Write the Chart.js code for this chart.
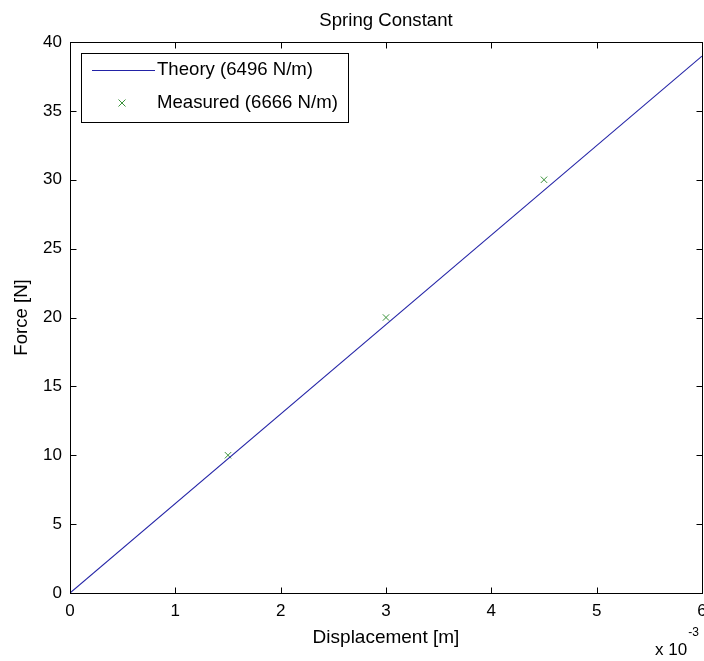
<!DOCTYPE html>
<html>
<head>
<meta charset="utf-8">
<script src="https://cdn.jsdelivr.net/npm/chart.js@4/dist/chart.umd.min.js"></script>
<style>
  html, body { margin: 0; padding: 0; background: #ffffff; }
  canvas { display: block; }
</style>
</head>
<body>
<canvas id="chart" width="704" height="661"></canvas>
<script>
// Texts
const chartTitle = 'Spring Constant';
const xAxisTitle = 'Displacement [m]';
const yAxisTitle = 'Force [N]';
const theoryLabel = 'Theory (6496 N/m)';
const measuredLabel = 'Measured (6666 N/m)';
const xExponentBase = 'x 10';
const xExponent = '-3';

// Theory line endpoints, F = k x with k = 6496 N/m
const theoryDisplacement = [0, 0.006];
const theoryForce = [0, 38.976];

// Measured points
const measuredDisplacement = [0.0015, 0.003, 0.0045];
const measuredForce = [10, 20, 30];

// Axis ticks
const xTickValues = [0, 0.001, 0.002, 0.003, 0.004, 0.005, 0.006];
const yTickValues = [0, 5, 10, 15, 20, 25, 30, 35, 40];

const FONT = '"Liberation Sans", Arial, Helvetica, sans-serif';
const TEXT_SIZE = 18.6;
const THEORY_COLOR = '#2222a6';
const MEASURED_COLOR = '#3a923a';

const toPoints = (xs, ys) => xs.map((v, i) => ({ x: v, y: ys[i] }));

// Box, inward ticks, centred title and the x10^-3 multiplier (MATLAB-style axes)
const boxAxes = {
  id: 'boxAxes',
  afterDraw(chart) {
    const { ctx, chartArea: a, scales: { x, y } } = chart;
    const L = Math.round(a.left) + 0.5;
    const R = Math.round(a.right) + 0.5;
    const T = Math.round(a.top) + 0.5;
    const B = Math.round(a.bottom) + 0.5;
    const tl = 6;
    ctx.save();
    ctx.strokeStyle = '#000000';
    ctx.lineWidth = 1;
    ctx.strokeRect(L, T, R - L, B - T);
    ctx.beginPath();
    xTickValues.forEach(v => {
      const px = Math.round(x.getPixelForValue(v)) + 0.5;
      ctx.moveTo(px, B); ctx.lineTo(px, B - tl);
      ctx.moveTo(px, T); ctx.lineTo(px, T + tl);
    });
    yTickValues.forEach(v => {
      const py = Math.round(y.getPixelForValue(v)) + 0.5;
      ctx.moveTo(L, py); ctx.lineTo(L + tl, py);
      ctx.moveTo(R, py); ctx.lineTo(R - tl, py);
    });
    ctx.stroke();

    ctx.fillStyle = '#000000';
    ctx.textBaseline = 'middle';

    // title centred over the plot box
    ctx.textAlign = 'center';
    ctx.font = TEXT_SIZE + 'px ' + FONT;
    ctx.fillText(chartTitle, (a.left + a.right) / 2, 21);

    // multiplier under the right end of the x axis
    ctx.textAlign = 'left';
    ctx.font = '17px ' + FONT;
    const bx = 655, by = 650;
    ctx.fillText(xExponentBase, bx, by);
    const w = ctx.measureText(xExponentBase).width;
    ctx.font = '12px ' + FONT;
    ctx.fillText(xExponent, bx + w + 1, by - 17);
    ctx.restore();
  }
};

// Boxed legend in the upper-left corner of the plot area
const boxLegend = {
  id: 'boxLegend',
  afterDraw(chart) {
    const { ctx, chartArea: a } = chart;
    const ds = chart.data.datasets;
    ctx.save();
    ctx.font = TEXT_SIZE + 'px ' + FONT;
    const left = Math.round(a.left) + 11;
    const top = Math.round(a.top) + 11;
    const textX = left + 76;
    const maxW = Math.max(...ds.map(d => ctx.measureText(d.label).width));
    const width = Math.round(textX + maxW + 10 - left);
    const height = 69;
    ctx.fillStyle = '#ffffff';
    ctx.fillRect(left, top, width, height);
    ctx.strokeStyle = '#000000';
    ctx.lineWidth = 1;
    ctx.strokeRect(left + 0.5, top + 0.5, width, height);

    const row1 = top + 17, row2 = top + 50;
    // theory line sample
    ctx.strokeStyle = ds[0].borderColor;
    ctx.lineWidth = 1;
    ctx.beginPath();
    ctx.moveTo(left + 11, row1 + 0.5);
    ctx.lineTo(left + 74, row1 + 0.5);
    ctx.stroke();
    // measured marker sample
    const mx = left + 41, r = 3.5;
    ctx.strokeStyle = ds[1].borderColor;
    ctx.beginPath();
    ctx.moveTo(mx - r, row2 - r); ctx.lineTo(mx + r, row2 + r);
    ctx.moveTo(mx - r, row2 + r); ctx.lineTo(mx + r, row2 - r);
    ctx.stroke();

    ctx.fillStyle = '#000000';
    ctx.textAlign = 'left';
    ctx.textBaseline = 'middle';
    ctx.fillText(ds[0].label, textX, row1);
    ctx.fillText(ds[1].label, textX, row2);
    ctx.restore();
  }
};

new Chart(document.getElementById('chart'), {
  type: 'scatter',
  data: {
    datasets: [
      {
        label: theoryLabel,
        data: toPoints(theoryDisplacement, theoryForce),
        showLine: true,
        borderColor: THEORY_COLOR,
        backgroundColor: THEORY_COLOR,
        borderWidth: 1.1,
        pointRadius: 0,
        fill: false
      },
      {
        label: measuredLabel,
        data: toPoints(measuredDisplacement, measuredForce),
        showLine: false,
        pointStyle: 'crossRot',
        pointRadius: 4.5,
        borderColor: MEASURED_COLOR,
        backgroundColor: MEASURED_COLOR,
        pointBorderWidth: 1
      }
    ]
  },
  options: {
    responsive: false,
    animation: false,
    events: [],
    layout: { autoPadding: false, padding: { left: 0, right: 2, top: 42, bottom: 0 } },
    plugins: {
      legend: { display: false },
      tooltip: { enabled: false },
      title: { display: false }
    },
    scales: {
      x: {
        type: 'linear',
        min: 0,
        max: 0.006,
        afterBuildTicks: s => { s.ticks = xTickValues.map(v => ({ value: v })); },
        afterFit: s => { s.height = 68; s.paddingLeft = 0; s.paddingRight = 0; },
        grid: { display: false, drawTicks: false },
        border: { display: false },
        ticks: {
          color: '#000000',
          padding: 8,
          maxRotation: 0,
          autoSkip: false,
          font: { family: FONT, size: 17 },
          callback: v => String(Math.round(v * 1000))
        },
        title: {
          display: true,
          text: xAxisTitle,
          color: '#000000',
          font: { family: FONT, size: 19, lineHeight: 1.2 },
          padding: { top: 0, bottom: 11.6 }
        }
      },
      y: {
        type: 'linear',
        min: 0,
        max: 40,
        afterBuildTicks: s => { s.ticks = yTickValues.map(v => ({ value: v })); },
        afterFit: s => { s.width = 70; s.paddingTop = 0; s.paddingBottom = 0; },
        grid: { display: false, drawTicks: false },
        border: { display: false },
        ticks: {
          color: '#000000',
          padding: 8,
          autoSkip: false,
          font: { family: FONT, size: 17 },
          callback: v => String(v)
        },
        title: {
          display: true,
          text: yAxisTitle,
          color: '#000000',
          font: { family: FONT, size: TEXT_SIZE, lineHeight: 1.2 },
          padding: { top: 11, bottom: 0 }
        }
      }
    }
  },
  plugins: [boxAxes, boxLegend]
});
</script>
</body>
</html>
